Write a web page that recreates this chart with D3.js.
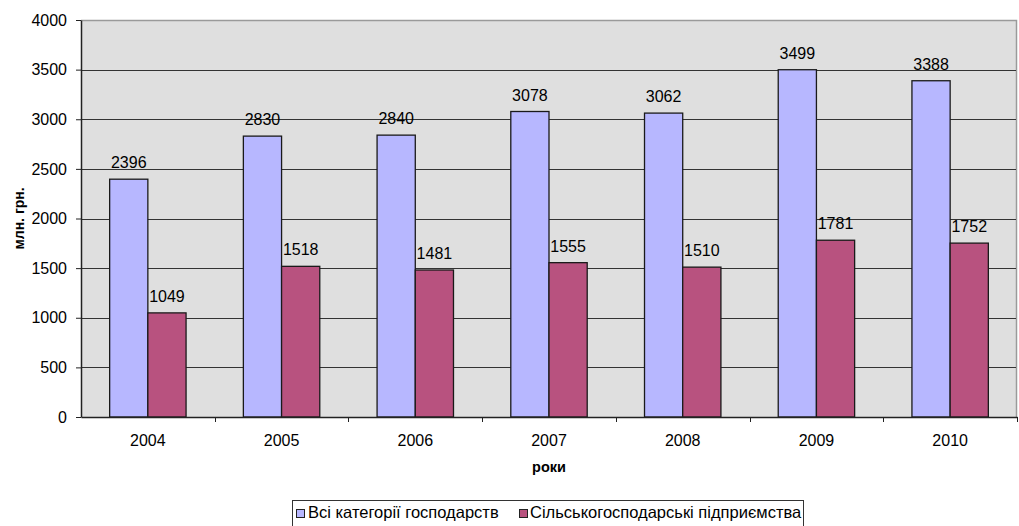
<!DOCTYPE html>
<html><head><meta charset="utf-8">
<script src="https://cdn.jsdelivr.net/npm/d3@7"></script>
<style>body{margin:0;background:#fff}svg{display:block}text{font-family:"Liberation Sans",Arial,sans-serif;fill:#000}</style>
</head><body>
<svg id="c" width="1019" height="526"></svg>
<script>
const years = ["2004","2005","2006","2007","2008","2009","2010"];
const allFarms = [2396,2830,2840,3078,3062,3499,3388];
const agriEnterprises = [1049,1518,1481,1555,1510,1781,1752];
const seriesNames = ["Всі категорії господарств","Сільськогосподарські підприємства"];
const yTicks = [0,500,1000,1500,2000,2500,3000,3500,4000];
const colors = ["#B7B7FF","#B8527F"];

const svg = d3.select("#c");
const L=81,R=1017,T=20,B=417;
const x = d3.scaleBand().domain(years).range([L,R]).paddingInner(0).paddingOuter(0);
const y = d3.scaleLinear().domain([0,4000]).range([B,T]);
const bw = x.bandwidth()/3.5;
const FF = "Liberation Sans, Arial, sans-serif";

svg.append("rect").attr("x",L).attr("y",T).attr("width",R-L).attr("height",B-T).attr("fill","#DFDFDF");
svg.append("path").attr("d",`M${L},${T+0.5}H${R-0.5}V${B}`).attr("fill","none").attr("stroke","#9a9a9a").attr("stroke-width",1.5);

svg.append("g").selectAll("line").data(yTicks.filter(d=>d>0 && d<4000)).join("line")
  .attr("x1",L).attr("x2",R-1).attr("y1",d=>Math.round(y(d))+0.5).attr("y2",d=>Math.round(y(d))+0.5)
  .attr("stroke","#333").attr("stroke-width",1);

const yAxis = svg.append("g").attr("transform",`translate(${L},0)`)
  .call(d3.axisLeft(y).tickValues(yTicks).tickFormat(d3.format("d")).tickSize(5).tickPadding(9).tickSizeOuter(0));
yAxis.select(".domain").attr("stroke","#222").attr("stroke-width",1.5);
yAxis.selectAll(".tick line").attr("stroke","#222");
yAxis.selectAll("text").attr("font-size",16).attr("font-family",FF).attr("fill","#000");

const series = [allFarms, agriEnterprises];
series.forEach((vals,si)=>{
  const g = svg.append("g");
  g.selectAll("rect").data(years).join("rect")
    .attr("x",(d)=>x(d)+bw*0.75+si*bw).attr("y",(d,i)=>y(vals[i]))
    .attr("width",bw).attr("height",(d,i)=>B-y(vals[i]))
    .attr("fill",colors[si]).attr("stroke","#1a1a1a").attr("stroke-width",1.3);
  g.selectAll("text").data(years).join("text")
    .attr("x",(d)=>x(d)+bw*0.75+si*bw+bw/2).attr("y",(d,i)=>y(vals[i])-11)
    .attr("text-anchor","middle").attr("font-size",16).text((d,i)=>vals[i]);
});

const xAxis = svg.append("g").attr("transform",`translate(0,${B})`)
  .call(d3.axisBottom(x).tickSize(0).tickPadding(17.5).tickSizeOuter(0));
xAxis.select(".domain").attr("stroke","#222").attr("stroke-width",1.5);
xAxis.selectAll("text").attr("font-size",16).attr("font-family",FF).attr("fill","#000");
svg.append("g").selectAll("line").data(years.slice(1).concat(["end"])).join("line")
  .attr("x1",(d,i)=>Math.round(L+x.bandwidth()*(i+1))+0.5).attr("x2",(d,i)=>Math.round(L+x.bandwidth()*(i+1))+0.5)
  .attr("y1",B).attr("y2",B+5).attr("stroke","#222");

svg.append("text").attr("transform",`translate(24,${(T+B)/2}) rotate(-90)`).attr("text-anchor","middle")
  .attr("font-size",14).attr("font-weight","bold").text("млн. грн.");
svg.append("text").attr("x",(L+R)/2).attr("y",472).attr("text-anchor","middle")
  .attr("font-size",14.5).attr("font-weight","bold").text("роки");

// legend
const lg = svg.append("g");
lg.append("rect").attr("x",292.5).attr("y",500.5).attr("width",511).attr("height",40).attr("fill","#fff").attr("stroke","#333");
lg.append("rect").attr("x",296.5).attr("y",509.5).attr("width",8).attr("height",8).attr("fill",colors[0]).attr("stroke","#222");
lg.append("text").attr("x",308).attr("y",518).attr("font-size",16.5).text(seriesNames[0]);
lg.append("rect").attr("x",519.5).attr("y",509.5).attr("width",8).attr("height",8).attr("fill",colors[1]).attr("stroke","#222");
lg.append("text").attr("x",530).attr("y",518).attr("font-size",16.5).text(seriesNames[1]);
</script>
</body></html>
